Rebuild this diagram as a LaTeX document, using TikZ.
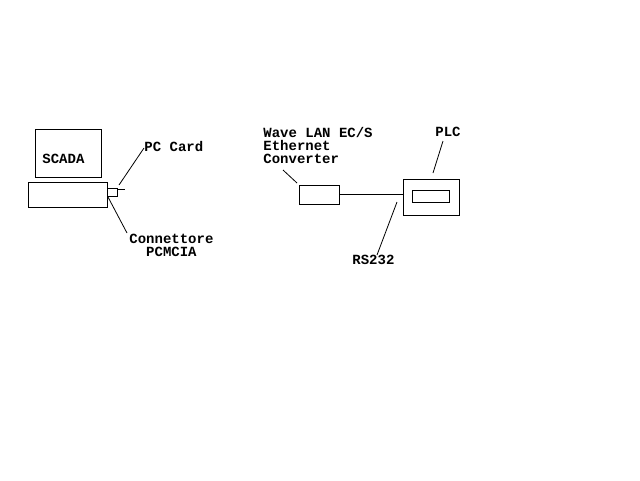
\documentclass[tikz,border=0pt]{standalone}
\usepackage{fontspec}
\setmonofont{Liberation Mono}
\tikzset{
	lbl/.style={font=\ttfamily\bfseries\fontsize{14}{13}\selectfont, inner sep=0pt, anchor=base west}
}
\begin{document}
\begin{tikzpicture}[x=1pt,y=-1pt,line width=0.8pt]
	\useasboundingbox (0,0) rectangle (640,480);
	% SCADA
	\draw (35,129) rectangle (101,177);
	\node[lbl] (scada) at (42,163) {SCADA};
	\draw (28,182) rectangle (107,207);
	\draw (107,188) rectangle (117,196);
	\coordinate (card) at (117,189);
	\coordinate (cardend) at (125,189);
	\draw (card) -- (cardend);
	\node[lbl] (pccard) at (144,151) {PC Card};
	\draw (119,185) -- (144,148);
	\node[lbl, align=center, anchor=north west] (conn) at (129,234) {Connettore\\PCMCIA};
	\draw (108,197) -- (127,233);
	% converter and PLC
	\node[lbl, align=left, anchor=north west] (wave) at (263,127) {Wave LAN EC/S\\Ethernet\\Converter};
	\draw (283,170) -- (297,183);
	\node[draw, minimum width=40pt, minimum height=19pt, inner sep=0pt] (conv) at (319,194.5) {};
	\node[draw, minimum width=56pt, minimum height=36pt, inner sep=0pt] (plc) at (431,197) {};
	\draw (412,190) rectangle (449,202);
	\draw (conv.east) -- (conv.east -| plc.west);
	\node[lbl] (plclbl) at (435,136) {PLC};
	\draw (433,173) -- (443,141);
	\node[lbl] (rs) at (352,264) {RS232};
	\draw (397,202) -- (377,255);
\end{tikzpicture}
\end{document}
